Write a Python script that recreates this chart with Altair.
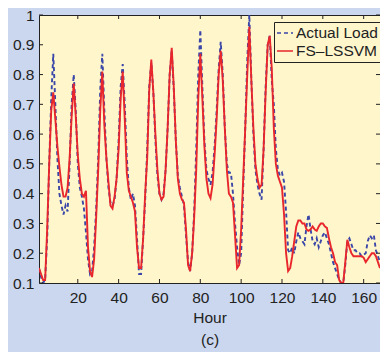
import altair as alt
import pandas as pd

hours = list(range(1, 169))

actual = [
    0.15, 0.12, 0.10, 0.11, 0.25, 0.50, 0.72, 0.87, 0.70, 0.52, 0.40, 0.36,
    0.33, 0.36, 0.34, 0.50, 0.70, 0.80, 0.68, 0.50, 0.42, 0.39, 0.35, 0.27,
    0.18, 0.13, 0.14, 0.22, 0.35, 0.52, 0.75, 0.87, 0.68, 0.52, 0.42, 0.37,
    0.36, 0.38, 0.45, 0.58, 0.76, 0.835, 0.70, 0.52, 0.42, 0.38, 0.40, 0.36,
    0.25, 0.13, 0.13, 0.25, 0.38, 0.55, 0.76, 0.84, 0.74, 0.58, 0.46, 0.40,
    0.38, 0.40, 0.48, 0.62, 0.80, 0.88, 0.75, 0.58, 0.46, 0.42, 0.39, 0.36,
    0.26, 0.17, 0.14, 0.20, 0.34, 0.55, 0.80, 0.95, 0.76, 0.58, 0.48, 0.45,
    0.43, 0.47, 0.56, 0.68, 0.82, 0.91, 0.80, 0.62, 0.50, 0.47, 0.47, 0.40,
    0.30, 0.22, 0.16, 0.20, 0.42, 0.62, 0.85, 1.00, 0.78, 0.60, 0.48, 0.43,
    0.40, 0.38, 0.55, 0.76, 0.90, 0.93, 0.78, 0.70, 0.55, 0.48, 0.46, 0.47,
    0.44, 0.34, 0.21, 0.20, 0.22, 0.20, 0.24, 0.27, 0.25, 0.24, 0.23, 0.29,
    0.33, 0.28, 0.24, 0.23, 0.25, 0.22, 0.24, 0.26, 0.27, 0.25, 0.23, 0.20,
    0.17, 0.15, 0.13, 0.11, 0.10, 0.10, 0.16, 0.24, 0.25, 0.23, 0.21, 0.21,
    0.20, 0.20, 0.19, 0.195, 0.20, 0.24, 0.26, 0.25, 0.26, 0.21, 0.19, 0.17,
]

fs_lssvm = [
    0.15, 0.13, 0.11, 0.11, 0.28, 0.50, 0.68, 0.74, 0.65, 0.56, 0.49, 0.43,
    0.39, 0.39, 0.42, 0.52, 0.66, 0.77, 0.66, 0.53, 0.45, 0.40, 0.39, 0.41,
    0.22, 0.14, 0.12, 0.18, 0.32, 0.48, 0.68, 0.81, 0.63, 0.52, 0.44, 0.36,
    0.35, 0.39, 0.45, 0.55, 0.72, 0.81, 0.65, 0.47, 0.41, 0.39, 0.37, 0.34,
    0.22, 0.15, 0.15, 0.25, 0.40, 0.52, 0.75, 0.85, 0.74, 0.60, 0.48, 0.40,
    0.38, 0.39, 0.48, 0.62, 0.80, 0.89, 0.76, 0.58, 0.45, 0.40, 0.38, 0.37,
    0.28, 0.16, 0.14, 0.20, 0.32, 0.48, 0.72, 0.87, 0.72, 0.56, 0.45, 0.40,
    0.385, 0.43, 0.53, 0.65, 0.80, 0.88, 0.78, 0.62, 0.48, 0.40, 0.39, 0.37,
    0.26, 0.15, 0.16, 0.28, 0.45, 0.62, 0.80, 0.96, 0.78, 0.62, 0.50, 0.45,
    0.42, 0.43, 0.55, 0.74, 0.90, 0.93, 0.82, 0.62, 0.50, 0.46, 0.44, 0.42,
    0.33, 0.20, 0.14, 0.15, 0.19, 0.24, 0.29, 0.31, 0.31, 0.30, 0.30, 0.28,
    0.275, 0.28, 0.29, 0.28, 0.275, 0.29, 0.30, 0.30, 0.29, 0.285, 0.25, 0.22,
    0.20, 0.17, 0.16, 0.11, 0.10, 0.10, 0.17, 0.245, 0.22, 0.20, 0.19, 0.19,
    0.19, 0.19, 0.19, 0.185, 0.17, 0.18, 0.19, 0.20, 0.20, 0.19, 0.17, 0.15,
]

series_names = ["Actual Load", "FS\u2013LSSVM"]
series_colors = ["#3a46a8", "#e8262b"]
series_dash = [[4, 3], [1, 0]]

x_ticks = [20, 40, 60, 80, 100, 120, 140, 160]
y_ticks = [0.1, 0.2, 0.3, 0.4, 0.5, 0.6, 0.7, 0.8, 0.9, 1.0]

df = pd.DataFrame({
    "Hour": hours + hours,
    "Load": actual + fs_lssvm,
    "Series": [series_names[0]] * len(hours) + [series_names[1]] * len(hours),
})

W, H = 341, 268
FONT = "Liberation Sans"
TEXT = "#222222"

xscale = alt.Scale(domain=[1, 168], nice=False, zero=False)
yscale = alt.Scale(domain=[0.1, 1.0], nice=False, zero=False)
xaxis = alt.Axis(values=x_ticks, title=["Hour", "(c)"], labelPadding=7,
                 titlePadding=5, titleLineHeight=22)
yaxis = alt.Axis(values=y_ticks, format=".1~f", title=None, labelPadding=5)

legend = alt.Legend(
    title=None, orient="none", legendX=235, legendY=7,
    strokeColor="#222222", fillColor="#fff6cc", padding=2,
    symbolType="stroke", symbolSize=256, symbolStrokeWidth=1.6,
    labelFont=FONT, labelFontSize=15.5, labelColor="#222222",
    labelOffset=2, rowPadding=0,
)

lines = alt.Chart(df).mark_line(clip=True, strokeWidth=1.9).encode(
    x=alt.X("Hour:Q", scale=xscale, axis=xaxis),
    y=alt.Y("Load:Q", scale=yscale, axis=yaxis),
    color=alt.Color("Series:N", scale=alt.Scale(domain=series_names, range=series_colors),
                    legend=legend),
    strokeDash=alt.StrokeDash("Series:N", scale=alt.Scale(domain=series_names, range=series_dash),
                              legend=legend),
    order=alt.Order("Hour:Q"),
)

tick_x = pd.DataFrame({"Hour": x_ticks})
tick_y = pd.DataFrame({"Load": y_ticks})

bottom_ticks = alt.Chart(tick_x).mark_rule(color="#222222", strokeWidth=1).encode(
    x=alt.X("Hour:Q", scale=xscale, axis=xaxis), y=alt.value(H), y2=alt.value(H - 4))
top_ticks = alt.Chart(tick_x).mark_rule(color="#222222", strokeWidth=1).encode(
    x=alt.X("Hour:Q", scale=xscale, axis=xaxis), y=alt.value(0), y2=alt.value(4))
left_ticks = alt.Chart(tick_y).mark_rule(color="#222222", strokeWidth=1).encode(
    y=alt.Y("Load:Q", scale=yscale, axis=yaxis), x=alt.value(0), x2=alt.value(4))
right_ticks = alt.Chart(tick_y).mark_rule(color="#222222", strokeWidth=1).encode(
    y=alt.Y("Load:Q", scale=yscale, axis=yaxis), x=alt.value(W - 4), x2=alt.value(W))

chart = alt.layer(lines, bottom_ticks, top_ticks, left_ticks, right_ticks).properties(
    width=W, height=H,
    autosize=alt.AutoSizeParams(type="none"),
    padding={"left": 31, "top": 7, "right": 0, "bottom": 69},
    background="#cbd7ee",
).configure_view(
    fill="#fff6cc", stroke="#222222", strokeWidth=1,
).configure_axis(
    labelFont=FONT, labelFontSize=15.5, labelColor=TEXT,
    titleFont=FONT, titleFontSize=15.5, titleColor=TEXT, titleFontWeight="normal",
    tickSize=0, domain=False, grid=False,
)

chart.save("out.html", embed_options={"renderer": "svg", "actions": False})
